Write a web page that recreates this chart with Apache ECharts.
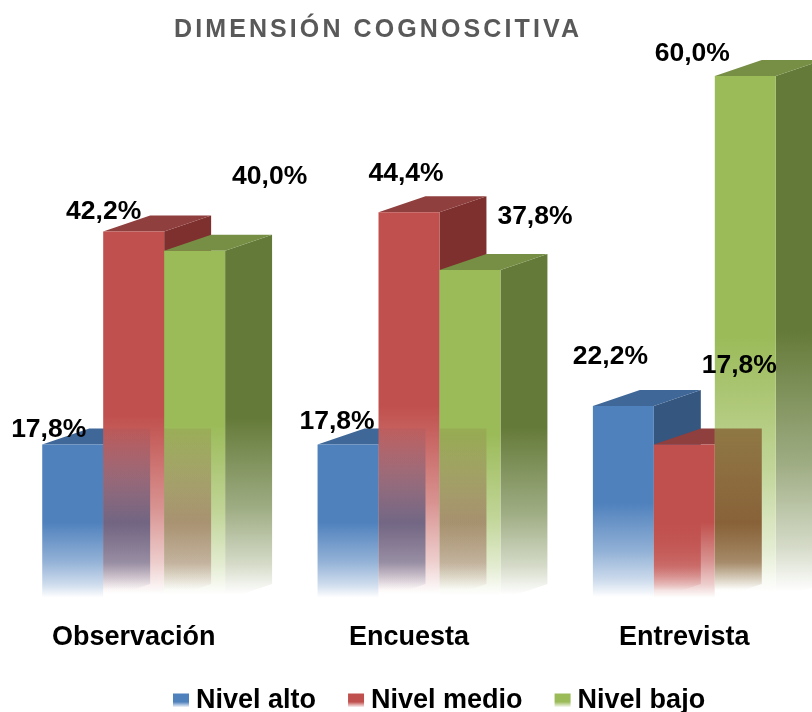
<!DOCTYPE html>
<html><head><meta charset="utf-8">
<style>html,body{margin:0;padding:0;background:#fff}#c{width:812px;height:712px}</style>
<script src="https://cdn.jsdelivr.net/npm/echarts@6/dist/echarts.min.js"></script>
</head><body><div id="c"></div>
<script>
const categories = ['Observación', 'Encuesta', 'Entrevista'];
const nivelAlto = [17.8, 17.8, 22.2];
const nivelMedio = [42.2, 44.4, 17.8];
const nivelBajo = [40.0, 37.8, 60.0];
const seriesNames = ['Nivel alto', 'Nivel medio', 'Nivel bajo'];
const titleText = 'DIMENSIÓN COGNOSCITIVA';

const seriesValues = [nivelAlto, nivelMedio, nivelBajo];
const palette = [
  {front:'#4f81bd', top:'#3f6797', side:'#34567f'},
  {front:'#c0504d', top:'#8f3f3d', side:'#7e302e'},
  {front:'#9bbb59', top:'#768f45', side:'#647a38'}
];
const labelOffsets = [
  [[-24,-15],[-11,-23],[-13,-49]],
  [[-30,-20],[-3,-39],[55,-79]],
  [[75,-74],[65,-53],[-53,-22]]
];
const BAR = 61/275.5, DX = 47/275.5, DY = 16, FADE = 0.5;

// Title is letter-spaced in the reference
(function(){
  const proto = CanvasRenderingContext2D.prototype, ft = proto.fillText;
  proto.fillText = function(t,x,y,m){
    if (t === titleText) { this.letterSpacing = '3.1px'; }
    const r = m === undefined ? ft.call(this,t,x,y) : ft.call(this,t,x,y,m);
    if (t === titleText) { this.letterSpacing = '0px'; }
    return r;
  };
})();

function rgba(hex,a){
  const n=parseInt(hex.slice(1),16);
  return `rgba(${n>>16},${(n>>8)&255},${n&255},${a})`;
}
function mixWhite(hex,k){
  const n=parseInt(hex.slice(1),16);
  const f=c=>Math.round(c*k+255*(1-k));
  return `rgb(${f(n>>16)},${f((n>>8)&255)},${f(n&255)})`;
}
function fade(c){
  return {type:'linear',x:0,y:0,x2:0,y2:1,colorStops:[
    {offset:0,color:c},{offset:FADE,color:c},
    {offset:0.75,color:mixWhite(c,0.62)},
    {offset:0.9,color:mixWhite(c,0.28)},
    {offset:0.985,color:'#ffffff'},{offset:1,color:'#ffffff'}]};
}
function geom(api,i,s,v){
  const band=api.size([1,0])[0], w=band*BAR, dx=band*DX;
  const c=api.coord([i,0]), t=api.coord([i,v]);
  const x=c[0]+(s-1.5)*w;
  return {x,w,dx,base:c[1],top:t[1]};
}
function boxSeries(s){
  return {
    type:'custom', name:seriesNames[s], z:2+s*0.1, clip:false, silent:true,
    itemStyle:{color:palette[s].front},
    encode:{x:0,y:1},
    data:seriesValues[s].map((v,i)=>[i,v]),
    renderItem(params,api){
      const i=api.value(0), g=geom(api,i,s,api.value(1)), p=palette[s];
      const xr=g.x+g.w;
      return {type:'group',children:[
        {type:'polygon',shape:{points:[[xr,g.top],[xr+g.dx,g.top-DY],[xr+g.dx,g.base-DY],[xr,g.base]]},style:{fill:fade(p.side)}},
        {type:'polygon',shape:{points:[[g.x,g.top],[g.x+g.dx,g.top-DY],[xr+g.dx,g.top-DY],[xr,g.top]]},style:{fill:p.top}},
        {type:'rect',shape:{x:g.x,y:g.top,width:g.w,height:g.base-g.top},style:{fill:fade(p.front)}}
      ]};
    }
  };
}
function ghostStyle(s,shorter){
  if(s===0) return shorter?{col:'#2f3f70',start:0.05,peak:0.62}:{col:palette[1].front,start:0,peak:0.9};
  return shorter?{col:'#7a4a20',start:0.65,peak:0.85}:{col:palette[1].side,start:0.1,peak:0.42};
}
function ghostSeries(s){
  return {
    type:'custom', name:'ghost'+s, z:3+s*0.1, clip:false, silent:true,
    encode:{x:0,y:1},
    data:seriesValues[s].map((v,i)=>[i,v]),
    renderItem(params,api){
      const i=api.value(0), v=api.value(1), next=seriesValues[s+1][i];
      const low=Math.min(nivelAlto[i],nivelMedio[i],nivelBajo[i]);
      const g=geom(api,i,s,low), xr=g.x+g.w;
      const shorter=v<next, st=ghostStyle(s,shorter);
      const top=(s===0&&!shorter)?g.top:g.top-DY;
      return {type:'polygon',shape:{points:[[xr,top],[xr+g.dx,top],[xr+g.dx,g.base-DY],[xr,g.base]]},
        style:{fill:{type:'linear',x:0,y:0,x2:0,y2:1,colorStops:[
          {offset:0,color:rgba(st.col,st.start)},
          {offset:0.55,color:rgba(st.col,st.peak)},
          {offset:0.78,color:rgba(st.col,st.peak*0.72)},
          {offset:0.94,color:rgba(st.col,0)},
          {offset:1,color:rgba(st.col,0)}]}}};
    }
  };
}
function labelSeries(s){
  return {
    type:'custom', name:'label'+s, z:5, clip:false, silent:true,
    encode:{x:0,y:1},
    data:seriesValues[s].map((v,i)=>[i,v]),
    renderItem(params,api){
      const i=api.value(0), v=api.value(1), g=geom(api,i,s,v);
      const o=labelOffsets[s][i];
      return {type:'text',style:{
        x:g.x+g.w/2+o[0],y:g.top+o[1],text:v.toFixed(1).replace('.',',')+'%',
        align:'center',verticalAlign:'middle',
        font:'bold 26.5px "Liberation Sans", Arial, sans-serif',fill:'#000'}};
    }
  };
}
const chart=echarts.init(document.getElementById('c'),null,{renderer:'canvas'});
chart.setOption({
  animation:false,
  backgroundColor:'#fff',
  title:{text:titleText,left:174,top:18,padding:0,
    textStyle:{color:'#595959',fontFamily:'"Liberation Sans"',fontWeight:'bold',fontSize:25}},
  grid:{left:-4,top:76,width:826,height:524,outerBoundsMode:'none'},
  xAxis:{type:'category',data:categories,axisLine:{show:false},axisTick:{show:false},
    axisLabel:{color:'#000',fontFamily:'"Liberation Sans"',fontWeight:'bold',fontSize:27,margin:24}},
  yAxis:{type:'value',min:0,max:60,show:false},
  legend:{data:seriesNames.map((n,i)=>({name:n,icon:'rect',itemStyle:{color:{type:'linear',x:0,y:0,x2:0,y2:1,colorStops:[
      {offset:0,color:palette[i].front},{offset:.6,color:palette[i].front},{offset:1,color:'#ffffff'}]}}})),
    left:173,top:687,padding:0,itemWidth:16,itemHeight:14,itemGap:32,
    textStyle:{color:'#000',fontFamily:'"Liberation Sans"',fontWeight:'bold',fontSize:27,padding:[0,0,0,2]}},
  series:[boxSeries(0),boxSeries(1),boxSeries(2),ghostSeries(0),ghostSeries(1),labelSeries(0),labelSeries(1),labelSeries(2)]
});
</script></body></html>
